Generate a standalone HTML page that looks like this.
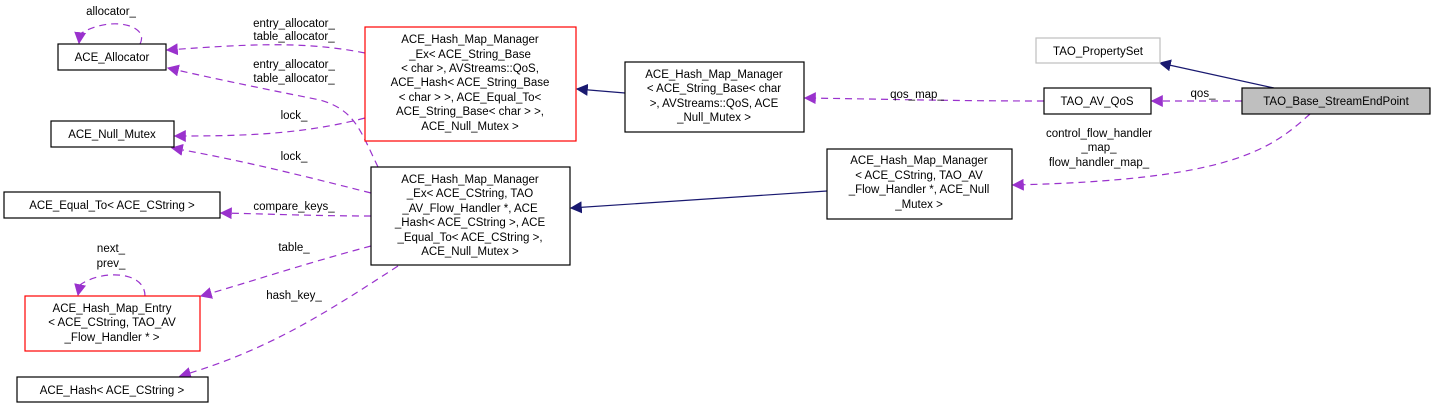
<!DOCTYPE html>
<html><head><meta charset="utf-8"><style>
html,body{margin:0;padding:0;background:#fff}
svg{display:block}
text{font-family:"Liberation Sans",sans-serif;font-size:11.5px;fill:#000}
</style></head><body>
<svg width="1436" height="408" viewBox="0 0 1436 408" xmlns="http://www.w3.org/2000/svg">
<defs>
<marker id="p" viewBox="0 0 10 10" refX="9" refY="5" markerWidth="12" markerHeight="12" markerUnits="userSpaceOnUse" orient="auto"><path d="M0,0 L10,5 L0,10 z" fill="#9a32cd"/></marker>
<marker id="b" viewBox="0 0 10 10" refX="9" refY="5" markerWidth="12" markerHeight="12" markerUnits="userSpaceOnUse" orient="auto"><path d="M0,0 L10,5 L0,10 z" fill="#191970"/></marker>
</defs>
<g fill="none" stroke="#9a32cd" stroke-dasharray="7,5" stroke-width="1.2">
<path d="M140,44 C150,25 110,15 80,34 L79,43" marker-end="url(#p)"/>
<path d="M365,53 C300,40 240,45 167,50" marker-end="url(#p)"/>
<path d="M378,167 C360,130 355,110 320,100 C270,90 220,80 168,68" marker-end="url(#p)"/>
<path d="M365,118 C300,135 240,136 175,136" marker-end="url(#p)"/>
<path d="M371,193 C300,175 240,160 172,148" marker-end="url(#p)"/>
<path d="M371,216 C320,216 270,214 221,213" marker-end="url(#p)"/>
<path d="M371,246 C300,265 250,282 201,296" marker-end="url(#p)"/>
<path d="M145,296 C145,270 100,270 80,285 L78,295" marker-end="url(#p)"/>
<path d="M398,266 C330,310 270,350 180,376" marker-end="url(#p)"/>
<path d="M1044,101 C950,101 880,99 805,98" marker-end="url(#p)"/>
<path d="M1242,101 L1152,101" marker-end="url(#p)"/>
<path d="M1310,114 C1270,150 1230,180 1013,185" marker-end="url(#p)"/>
</g>
<g fill="none" stroke="#191970" stroke-width="1.2">
<path d="M625,93 L577,89" marker-end="url(#b)"/>
<path d="M827,191 L571,208" marker-end="url(#b)"/>
<path d="M1274,88 L1160,63" marker-end="url(#b)"/>
</g>
<g stroke-width="1.2">
<rect x="58" y="44" width="108" height="26" fill="#fff" stroke="#000"/>
<rect x="51" y="121" width="123" height="26" fill="#fff" stroke="#000"/>
<rect x="4" y="192" width="216" height="26" fill="#fff" stroke="#000"/>
<rect x="25" y="296" width="175" height="55" fill="#fff" stroke="#f00"/>
<rect x="17" y="377" width="191" height="25" fill="#fff" stroke="#000"/>
<rect x="365" y="27" width="211" height="114" fill="#fff" stroke="#f00"/>
<rect x="371" y="167" width="199" height="98" fill="#fff" stroke="#000"/>
<rect x="625" y="62" width="179" height="70" fill="#fff" stroke="#000"/>
<rect x="827" y="149" width="185" height="70" fill="#fff" stroke="#000"/>
<rect x="1036" y="38" width="124" height="25" fill="#fff" stroke="#bfbfbf"/>
<rect x="1044" y="88" width="107" height="26" fill="#fff" stroke="#000"/>
<rect x="1242" y="88" width="188" height="26" fill="#bfbfbf" stroke="#000"/>
</g>
<g text-anchor="middle">
<text x="112" y="61">ACE_Allocator</text>
<text x="112" y="138">ACE_Null_Mutex</text>
<text x="112" y="209">ACE_Equal_To&lt; ACE_CString &gt;</text>
<text x="112" y="312">ACE_Hash_Map_Entry</text><text x="112" y="326">&lt; ACE_CString, TAO_AV</text><text x="112" y="341">_Flow_Handler * &gt;</text>
<text x="112" y="394">ACE_Hash&lt; ACE_CString &gt;</text>
<text x="1098" y="55">TAO_PropertySet</text>
<text x="1097" y="105">TAO_AV_QoS</text>
<text x="1336" y="105">TAO_Base_StreamEndPoint</text>
<text x="470" y="43">ACE_Hash_Map_Manager</text><text x="470" y="58">_Ex&lt; ACE_String_Base</text><text x="470" y="72">&lt; char &gt;, AVStreams::QoS,</text><text x="470" y="86"> ACE_Hash&lt; ACE_String_Base</text><text x="470" y="101">&lt; char &gt; &gt;, ACE_Equal_To&lt;</text><text x="470" y="115"> ACE_String_Base&lt; char &gt; &gt;,</text><text x="470" y="130">ACE_Null_Mutex &gt;</text>
<text x="470" y="183">ACE_Hash_Map_Manager</text><text x="470" y="197">_Ex&lt; ACE_CString, TAO</text><text x="470" y="212">_AV_Flow_Handler *, ACE</text><text x="470" y="226">_Hash&lt; ACE_CString &gt;, ACE</text><text x="470" y="241">_Equal_To&lt; ACE_CString &gt;,</text><text x="470" y="255">ACE_Null_Mutex &gt;</text>
<text x="714" y="78">ACE_Hash_Map_Manager</text><text x="714" y="92">&lt; ACE_String_Base&lt; char</text><text x="714" y="107">&gt;, AVStreams::QoS, ACE</text><text x="714" y="121">_Null_Mutex &gt;</text>
<text x="919" y="164">ACE_Hash_Map_Manager</text><text x="919" y="179">&lt; ACE_CString, TAO_AV</text><text x="919" y="193">_Flow_Handler *, ACE_Null</text><text x="919" y="208">_Mutex &gt;</text>
<text x="111" y="15">allocator_</text>
<text x="294" y="27">entry_allocator_</text><text x="294" y="40">table_allocator_</text>
<text x="294" y="68">entry_allocator_</text><text x="294" y="82">table_allocator_</text>
<text x="294" y="119">lock_</text>
<text x="294" y="160">lock_</text>
<text x="294" y="210">compare_keys_</text>
<text x="294" y="251">table_</text>
<text x="111" y="252">next_</text><text x="111" y="267">prev_</text>
<text x="294" y="299">hash_key_</text>
<text x="917" y="98">qos_map_</text>
<text x="1203" y="97">qos_</text>
<text x="1099" y="137">control_flow_handler</text><text x="1099" y="151">_map_</text><text x="1099" y="166">flow_handler_map_</text>
</g>
</svg>
</body></html>
